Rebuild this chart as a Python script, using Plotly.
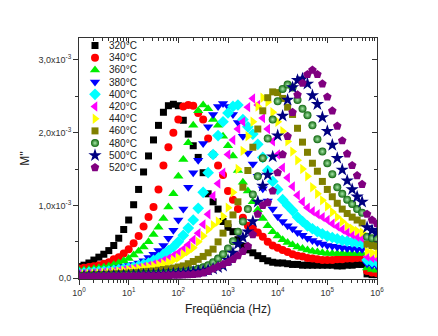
import plotly.graph_objects as go

# Frequency grid (Hz), shared by all temperature series
FREQ_HZ = [1, 1.259, 1.585, 1.995, 2.512, 3.162, 3.981, 5.012, 6.31, 7.943,
           10, 12.59, 15.85, 19.95, 25.12, 31.62, 39.81, 50.12, 63.1, 79.43,
           100, 125.9, 158.5, 199.5, 251.2, 316.2, 398.1, 501.2, 631, 794.3,
           1000, 1259, 1585, 1995, 2512, 3162, 3981, 5012, 6310, 7943,
           1e4, 1.259e4, 1.585e4, 1.995e4, 2.512e4, 3.162e4, 3.981e4, 5.012e4, 6.31e4, 7.943e4,
           1e5, 1.259e5, 1.585e5, 1.995e5, 2.512e5, 3.162e5, 3.981e5, 5.012e5, 6.31e5, 7.943e5,
           1e6]

TEMPS = ["320°C", "340°C", "360°C", "380°C", "400°C", "420°C",
         "440°C", "460°C", "480°C", "500°C", "520°C"]

# M'' values in units of 1e-3
M_320 = [0.16, 0.18, 0.21, 0.25, 0.29, 0.33, 0.38, 0.45, 0.55, 0.67,
         0.80, 1.01, 1.22, 1.46, 1.68, 1.90, 2.10, 2.28, 2.37, 2.39,
         2.37, 2.17, 1.98, 1.82, 1.66, 1.45, 1.16, 1.05, 0.95, 0.78,
         0.70, 0.64, 0.53, 0.44, 0.39, 0.35, 0.31, 0.27, 0.24, 0.22,
         0.21, 0.21, 0.20, 0.19, 0.19, 0.18, 0.18, 0.18, 0.18, 0.18,
         0.18, 0.18, 0.17, 0.17, 0.18, 0.18, 0.19, 0.19, 0.06, 0.05,
         0.05]
M_340 = [0.135, 0.145, 0.155, 0.165, 0.18, 0.20, 0.22, 0.26, 0.29, 0.34,
         0.40, 0.48, 0.58, 0.71, 0.84, 0.98, 1.22, 1.55, 1.80, 2.00,
         2.18, 2.36, 2.38, 2.37, 2.27, 2.18, 1.92, 1.70, 1.55, 1.42,
         1.20, 1.08, 0.95, 0.83, 0.72, 0.68, 0.63, 0.57, 0.50, 0.45,
         0.42, 0.39, 0.36, 0.33, 0.31, 0.30, 0.28, 0.27, 0.26, 0.25,
         0.25, 0.25, 0.26, 0.26, 0.27, 0.27, 0.28, 0.28, 0.10, 0.08,
         0.07]
M_360 = [0.11, 0.115, 0.12, 0.13, 0.14, 0.15, 0.165, 0.185, 0.21, 0.24,
         0.27, 0.32, 0.37, 0.43, 0.50, 0.60, 0.70, 0.82, 0.98, 1.16,
         1.40, 1.63, 1.86, 2.10, 2.30, 2.38, 2.33, 2.18, 2.10, 1.95,
         1.82, 1.68, 1.48, 1.32, 1.20, 1.05, 0.94, 0.82, 0.72, 0.64,
         0.58, 0.53, 0.49, 0.46, 0.43, 0.41, 0.39, 0.37, 0.36, 0.35,
         0.34, 0.34, 0.34, 0.34, 0.34, 0.34, 0.34, 0.34, 0.14, 0.12,
         0.11]
M_380 = [0.085, 0.09, 0.095, 0.10, 0.105, 0.115, 0.12, 0.13, 0.145, 0.16,
         0.175, 0.19, 0.21, 0.24, 0.285, 0.33, 0.38, 0.45, 0.55, 0.66,
         0.80, 0.95, 1.25, 1.45, 1.62, 1.85, 2.08, 2.25, 2.36, 2.40,
         2.36, 2.25, 2.14, 1.95, 1.72, 1.57, 1.40, 1.23, 1.06, 0.95,
         0.85, 0.78, 0.72, 0.68, 0.63, 0.59, 0.55, 0.52, 0.49, 0.47,
         0.45, 0.44, 0.43, 0.42, 0.41, 0.41, 0.40, 0.40, 0.20, 0.18,
         0.17]
M_400 = [0.07, 0.075, 0.08, 0.085, 0.09, 0.095, 0.10, 0.11, 0.12, 0.13,
         0.14, 0.155, 0.17, 0.19, 0.21, 0.245, 0.28, 0.33, 0.38, 0.43,
         0.50, 0.59, 0.69, 0.80, 0.96, 1.18, 1.45, 1.70, 1.96, 2.15,
         2.27, 2.36, 2.38, 2.18, 2.08, 1.98, 1.84, 1.66, 1.48, 1.33,
         1.22, 1.08, 1.00, 0.93, 0.84, 0.78, 0.72, 0.68, 0.64, 0.61,
         0.58, 0.56, 0.54, 0.52, 0.51, 0.50, 0.49, 0.48, 0.25, 0.23,
         0.22]
M_420 = [0.06, 0.063, 0.066, 0.07, 0.075, 0.08, 0.085, 0.09, 0.10, 0.11,
         0.12, 0.13, 0.14, 0.155, 0.17, 0.19, 0.21, 0.24, 0.27, 0.31,
         0.35, 0.40, 0.46, 0.53, 0.62, 0.74, 0.88, 1.13, 1.30, 1.45,
         1.70, 1.90, 2.05, 2.15, 2.35, 2.47, 2.38, 2.20, 2.05, 1.88,
         1.70, 1.52, 1.38, 1.26, 1.14, 1.05, 0.97, 0.92, 0.88, 0.84,
         0.80, 0.75, 0.71, 0.67, 0.63, 0.60, 0.57, 0.55, 0.30, 0.28,
         0.27]
M_440 = [0.05, 0.055, 0.06, 0.065, 0.07, 0.075, 0.08, 0.09, 0.095, 0.105,
         0.115, 0.125, 0.135, 0.145, 0.155, 0.17, 0.185, 0.20, 0.22, 0.25,
         0.28, 0.33, 0.37, 0.42, 0.50, 0.58, 0.67, 0.73, 0.78, 0.85,
         0.97, 1.18, 1.50, 1.75, 1.95, 2.15, 2.36, 2.48, 2.42, 2.28,
         2.15, 2.02, 1.88, 1.74, 1.62, 1.50, 1.40, 1.25, 1.16, 1.07,
         0.99, 0.91, 0.84, 0.78, 0.72, 0.68, 0.65, 0.63, 0.37, 0.35,
         0.34]
M_460 = [0.04, 0.042, 0.045, 0.048, 0.05, 0.053, 0.056, 0.06, 0.064, 0.068,
         0.072, 0.077, 0.082, 0.09, 0.095, 0.10, 0.11, 0.12, 0.13, 0.14,
         0.155, 0.17, 0.20, 0.23, 0.26, 0.30, 0.35, 0.40, 0.50, 0.62,
         0.75, 0.87, 1.05, 1.25, 1.48, 1.80, 2.05, 2.30, 2.48, 2.56,
         2.55, 2.47, 2.35, 2.25, 2.06, 1.87, 1.73, 1.58, 1.47, 1.33,
         1.22, 1.12, 1.03, 0.95, 0.89, 0.84, 0.80, 0.76, 0.47, 0.45,
         0.44]
M_480 = [0.035, 0.036, 0.037, 0.038, 0.04, 0.041, 0.042, 0.044, 0.046, 0.048,
         0.05, 0.052, 0.055, 0.058, 0.06, 0.063, 0.066, 0.07, 0.075, 0.08,
         0.085, 0.09, 0.10, 0.11, 0.13, 0.15, 0.18, 0.22, 0.27, 0.33,
         0.41, 0.51, 0.64, 0.78, 0.95, 1.15, 1.40, 1.65, 1.92, 2.18,
         2.43, 2.60, 2.66, 2.62, 2.45, 2.33, 2.24, 2.10, 1.91, 1.74,
         1.58, 1.43, 1.25, 1.16, 1.08, 1.02, 0.95, 0.90, 0.57, 0.55,
         0.54]
M_500 = [0.03, 0.031, 0.032, 0.033, 0.034, 0.035, 0.036, 0.037, 0.038, 0.04,
         0.041, 0.043, 0.045, 0.047, 0.049, 0.051, 0.054, 0.057, 0.06, 0.064,
         0.068, 0.073, 0.078, 0.085, 0.093, 0.10, 0.115, 0.13, 0.15, 0.17,
         0.25, 0.35, 0.47, 0.56, 0.64, 0.78, 1.05, 1.27, 1.42, 1.67,
         1.96, 2.23, 2.45, 2.62, 2.72, 2.74, 2.67, 2.51, 2.39, 2.21,
         2.02, 1.83, 1.65, 1.49, 1.34, 1.22, 1.12, 1.05, 0.70, 0.66,
         0.63]
M_520 = [0.025, 0.025, 0.026, 0.026, 0.027, 0.027, 0.028, 0.028, 0.029, 0.03,
         0.03, 0.031, 0.032, 0.033, 0.034, 0.035, 0.036, 0.038, 0.04, 0.042,
         0.044, 0.047, 0.05, 0.055, 0.06, 0.075, 0.095, 0.13, 0.16, 0.19,
         0.22, 0.26, 0.31, 0.37, 0.44, 0.60, 0.88, 1.00, 1.04, 1.20,
         1.45, 1.70, 1.95, 2.28, 2.52, 2.68, 2.80, 2.86, 2.80, 2.67,
         2.49, 2.30, 2.09, 1.89, 1.71, 1.55, 1.41, 1.29, 0.88, 0.80,
         0.75]

SERIES = [M_320, M_340, M_360, M_380, M_400, M_420, M_440, M_460, M_480, M_500, M_520]

X_TICKS = [1, 10, 100, 1000, 1e4, 1e5, 1e6]
X_TICKTEXT = ["10<sup>0</sup>", "10<sup>1</sup>", "10<sup>2</sup>", "10<sup>3</sup>",
              "10<sup>4</sup>", "10<sup>5</sup>", "10<sup>6</sup>"]
Y_TICKS = [0, 1e-3, 2e-3, 3e-3]
Y_TICKTEXT = ["0,0", "1,0x10<sup>-3</sup>", "2,0x10<sup>-3</sup>", "3,0x10<sup>-3</sup>"]

COLORS = ["#000000", "#FF0000", "#00EE00", "#0000FF", "#00FFFF", "#FF00FF",
          "#FFFF00", "#808000", "#0a7a0a", "#000080", "#800080"]
SYMBOLS = ["square", "circle", "triangle-up", "triangle-down", "diamond", "triangle-left",
           "triangle-right", "square", "circle", "star", "pentagon"]
SIZES = [7, 8, 9, 9, 9, 9, 9, 7, 8, 10, 9]

X_MINOR = [m * d for d in [1, 10, 100, 1000, 1e4, 1e5] for m in range(2, 10)]
Y_MINOR = [0.5e-3, 1.5e-3, 2.5e-3]

# plot area in pixels (for legend placement)
L, R, T, B = 79, 377, 38, 279
W, H = 438, 336


def make_marker(i):
    m = dict(color=COLORS[i], symbol=SYMBOLS[i], size=SIZES[i], line=dict(width=0))
    if TEMPS[i] == "480°C":
        m["color"] = "#0d650d"
        m["gradient"] = dict(type="radial", color="#a8e8a8")
    return m


fig = go.Figure()
for i, (name, vals) in enumerate(zip(TEMPS, SERIES)):
    fig.add_trace(go.Scatter(x=FREQ_HZ, y=[v * 1e-3 for v in vals], mode="markers",
                             name=name, marker=make_marker(i), showlegend=False))

# dummy trace for mirrored top / right axes
fig.add_trace(go.Scatter(x=[], y=[], xaxis="x2", yaxis="y2", showlegend=False, hoverinfo="skip"))

# hand-built compact legend
for i, name in enumerate(TEMPS):
    ypx = 45.5 + 12.2 * i
    yf = (B - ypx) / (B - T)
    xs = (95 - L) / (R - L)
    xt = (107 - L) / (R - L)
    fig.add_trace(go.Scatter(x=[xs], y=[yf], xaxis="x3", yaxis="y3", mode="markers",
                             marker=make_marker(i), showlegend=False, hoverinfo="skip",
                             cliponaxis=False))
    fig.add_annotation(x=xt, y=yf, xref="x3", yref="y3", text=name, showarrow=False,
                       xanchor="left", yanchor="middle",
                       font=dict(family="Liberation Sans, Arial", size=10, color="#222"))

axis_font = dict(family="Liberation Sans, Arial", size=9, color="#333")
line_col = "#333"

fig.update_layout(
    width=W, height=H,
    margin=dict(l=L, r=W - R, t=T, b=H - B, pad=0),
    paper_bgcolor="white", plot_bgcolor="white",
    showlegend=False,
    font=dict(family="Liberation Sans, Arial", color="#222"),
    xaxis=dict(type="log", range=[0, 6], tickvals=X_TICKS, ticktext=X_TICKTEXT,
               ticks="outside", ticklen=5, tickcolor=line_col, tickfont=axis_font,
               minor=dict(tickvals=X_MINOR, ticks="outside", ticklen=3, tickcolor=line_col),
               showline=True, linecolor=line_col, linewidth=1, showgrid=False, zeroline=False,
               title=dict(text="Freqüência (Hz)", font=dict(family="Liberation Sans, Arial", size=12, color="#222"),
                          standoff=7),
               automargin=False),
    yaxis=dict(range=[-0.01e-3, 3.30e-3], tickvals=Y_TICKS, ticktext=Y_TICKTEXT,
               ticks="outside", ticklen=5, tickcolor=line_col, tickfont=axis_font,
               minor=dict(tickvals=Y_MINOR, ticks="outside", ticklen=3, tickcolor=line_col),
               showline=True, linecolor=line_col, linewidth=1, showgrid=False, zeroline=False,
               title=dict(text="M''", font=dict(family="Liberation Sans, Arial", size=12, color="#222"),
                          standoff=6),
               automargin=False),
    xaxis2=dict(type="log", range=[0, 6], overlaying="x", side="top", tickvals=X_TICKS,
                showticklabels=False, ticks="inside", ticklen=5, tickcolor=line_col,
                minor=dict(tickvals=X_MINOR, ticks="inside", ticklen=3, tickcolor=line_col),
                showline=True, linecolor=line_col, linewidth=1, showgrid=False, zeroline=False),
    yaxis2=dict(range=[-0.01e-3, 3.30e-3], overlaying="y", side="right", tickvals=Y_TICKS,
                showticklabels=False, ticks="inside", ticklen=5, tickcolor=line_col,
                minor=dict(tickvals=Y_MINOR, ticks="inside", ticklen=3, tickcolor=line_col),
                showline=True, linecolor=line_col, linewidth=1, showgrid=False, zeroline=False),
    xaxis3=dict(range=[0, 1], overlaying="x", visible=False),
    yaxis3=dict(range=[0, 1], overlaying="y", visible=False),
)

fig.write_html("out.html")
